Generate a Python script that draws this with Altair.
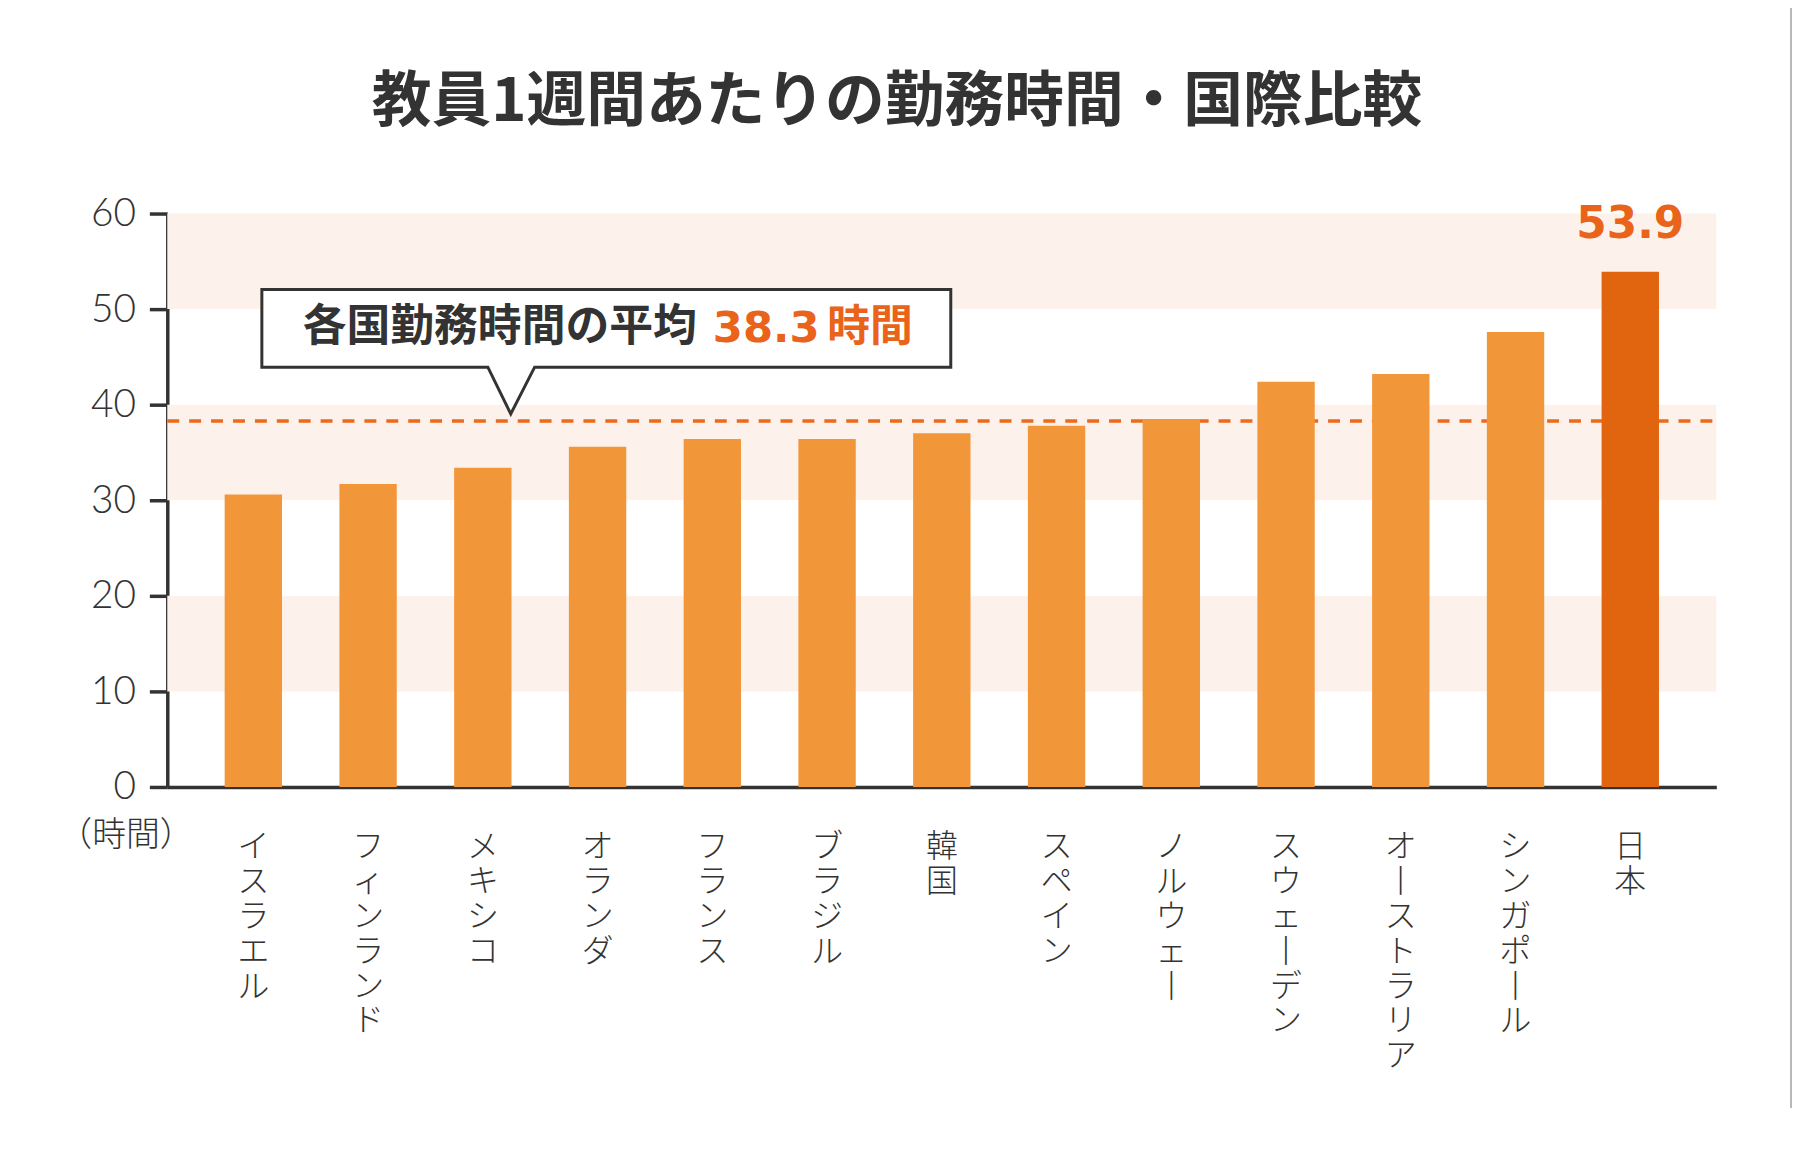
import altair as alt
import pandas as pd

# ---- data ----
countries = ["イスラエル", "フィンランド", "メキシコ", "オランダ", "フランス", "ブラジル",
             "韓国", "スペイン", "ノルウェー", "スウェーデン", "オーストラリア", "シンガポール", "日本"]
hours = [30.6, 31.7, 33.4, 35.6, 36.4, 36.4, 37.0, 37.8, 38.5, 42.4, 43.2, 47.6, 53.9]
highlight = "日本"
average = 38.3
band_low = [10, 30, 50]
band_high = [20, 40, 60]
y_ticks = [0, 10, 20, 30, 40, 50, 60]
title_text = "教員1週間あたりの勤務時間・国際比較"
unit_label = "（時間）"
callout_label = "各国勤務時間の平均"
callout_value = "38.3"
callout_unit = "時間"

# ---- style ----
W, H = 1556, 576
BAR = "#F2963A"
BAR_HI = "#E1650F"
ACCENT = "#E9631A"
DASH = "#EC6A1C"
BAND = "#FDF2EB"
DARK = "#333333"
JP = "Noto Sans CJK JP"
NUM = "DejaVu Sans"
AXNUM = "Lato"

df = pd.DataFrame({"country": countries, "hours": hours})
bands_df = pd.DataFrame({"lo": band_low, "hi": band_high})
avg_df = pd.DataFrame({"avg": [average]})
yscale = alt.Scale(domain=[0, 60], nice=False, zero=True)
xscale = alt.Scale(domain=countries, paddingInner=0.5, paddingOuter=0.5)

x_axis = alt.Axis(
    title=None, labelAngle=0, labelAlign="center", labelBaseline="top",
    labelExpr="split(replace(datum.label, 'ー', '丨'), '')",
    labelPadding=45, labelLineHeight=35, labelFont=JP, labelFontSize=32,
    labelFontWeight=300, labelColor=DARK, ticks=False, tickSize=0,
    domainColor=DARK, domainWidth=3.5, labelOverlap=False, labelFlush=False,
    labelLimit=0)
y_axis = alt.Axis(
    values=y_ticks, tickSize=18, tickWidth=3.5, tickColor=DARK,
    domainColor=DARK, domainWidth=3.5, grid=False,
    labelFont=AXNUM, labelFontSize=39, labelFontWeight=300, labelColor=DARK,
    labelPadding=14,
    title=unit_label, titleAngle=0, titleX=-42, titleY=625,
    titleAlign="center", titleBaseline="middle", titleFont=JP,
    titleFontSize=34, titleFontWeight=300, titleColor=DARK)

bands = alt.Chart(bands_df).mark_rect(color=BAND).encode(
    x=alt.value(0), x2=alt.value(W),
    y=alt.Y("lo:Q", scale=yscale, axis=y_axis), y2="hi:Q")

avg_line = alt.Chart(avg_df).mark_rule(color=DASH, strokeWidth=3.5, strokeDash=[12, 10]).encode(
    x=alt.value(0), x2=alt.value(W),
    y=alt.Y("avg:Q", scale=yscale, axis=y_axis))

bars = alt.Chart(df).mark_bar().encode(
    x=alt.X("country:N", sort=countries, scale=xscale, axis=x_axis),
    y=alt.Y("hours:Q", scale=yscale, axis=y_axis),
    color=alt.condition(alt.datum.country == highlight, alt.value(BAR_HI), alt.value(BAR)),
)

hi_label = alt.Chart(df).transform_filter(alt.datum.country == highlight).mark_text(
    font=NUM, fontSize=44, fontWeight="bold", color=ACCENT, baseline="alphabetic",
    align="center", dy=-34).encode(
    x=alt.X("country:N", sort=countries, scale=xscale, axis=x_axis),
    y=alt.Y("hours:Q", scale=yscale, axis=y_axis),
    text=alt.Text("hours:Q", format=".1f"))

callout_path = "M0,-7 L-23,-54 L-250,-54 L-250,-132 L442,-132 L442,-54 L24,-54 Z"
callout = alt.Chart(avg_df).mark_point(
    shape=callout_path, size=4, filled=True, fill="#ffffff", stroke=DARK,
    strokeWidth=3, opacity=1, fillOpacity=1, strokeOpacity=1, strokeJoin="miter").encode(
    x=alt.value(345), y=alt.Y("avg:Q", scale=yscale, axis=y_axis))

t1 = alt.Chart(pd.DataFrame({"t": [callout_label]})).mark_text(
    font=JP, fontSize=44, fontWeight="bold", color=DARK, align="left",
    baseline="alphabetic").encode(x=alt.value(136), y=alt.value(128), text="t:N")
t2 = alt.Chart(pd.DataFrame({"t": [callout_value]})).mark_text(
    font=NUM, fontSize=43.5, fontWeight="bold", color=ACCENT, align="left",
    baseline="alphabetic").encode(x=alt.value(548), y=alt.value(129), text="t:N")
t3 = alt.Chart(pd.DataFrame({"t": [callout_unit]})).mark_text(
    font=JP, fontSize=43, fontWeight="bold", color=ACCENT, align="left",
    baseline="alphabetic").encode(x=alt.value(663), y=alt.value(128), text="t:N")

border = alt.Chart(pd.DataFrame({"k": [0]})).mark_rule(color="#b8b8b8", strokeWidth=2).encode(
    x=alt.value(1631), y=alt.value(-210), y2=alt.value(905))

chart = alt.layer(bands, avg_line, bars, hi_label, callout, t1, t2, t3, border).properties(
    width=W, height=H,
    title=alt.TitleParams(text=title_text, font=JP, fontSize=60, fontWeight="bold",
                          color=DARK, anchor="middle", frame="group", dx=-45,
                          baseline="alphabetic", offset=-178),
    autosize=alt.AutoSizeParams(type="none"),
    padding={"left": 160, "top": 204, "right": 76, "bottom": 320},
    background="#ffffff",
).configure_view(strokeWidth=0, strokeOpacity=0)

chart.save("out.html", embed_options={"renderer": "svg", "actions": False})
